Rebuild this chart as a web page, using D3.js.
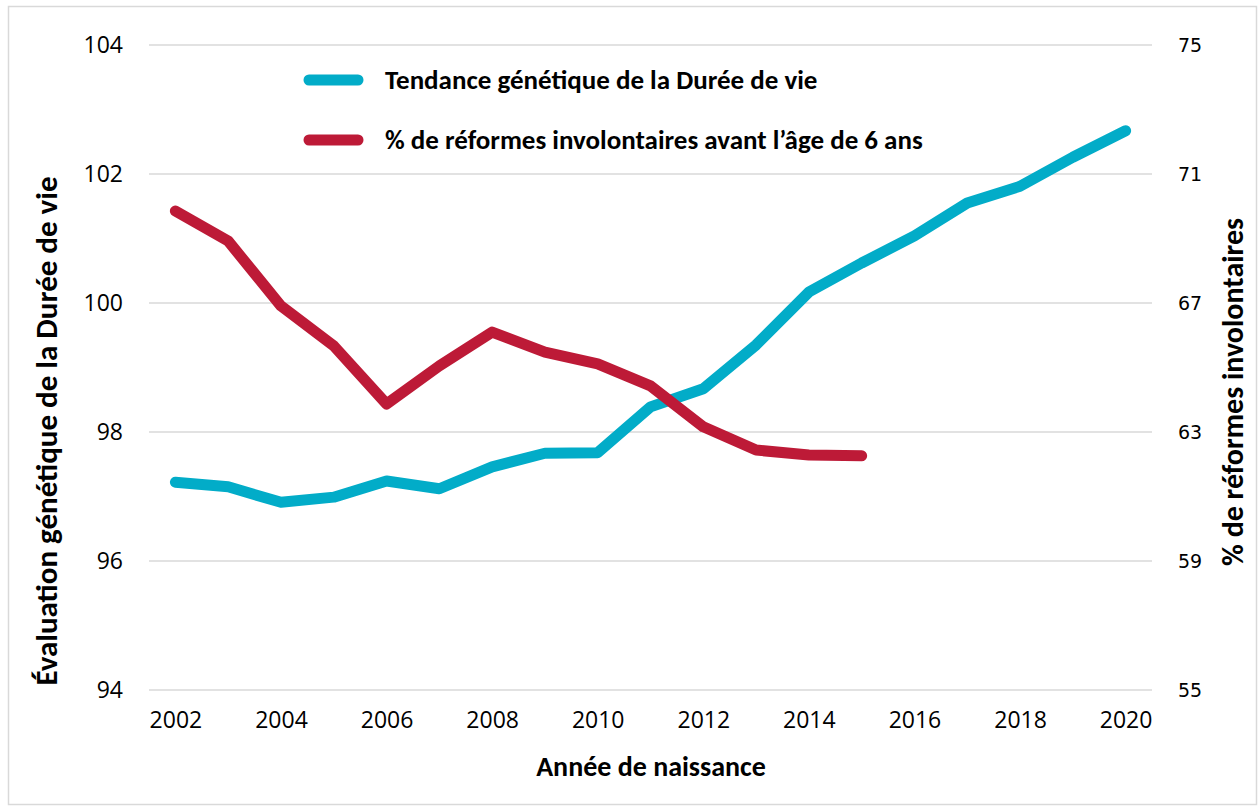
<!DOCTYPE html>
<html><head><meta charset="utf-8">
<script src="https://cdn.jsdelivr.net/npm/d3@7"></script>
<style>
body{margin:0;background:#fff;}
svg{display:block;}
</style></head>
<body>
<svg id="chart" width="1258" height="808"></svg>
<script>
const years = [2002,2003,2004,2005,2006,2007,2008,2009,2010,2011,2012,2013,2014,2015,2016,2017,2018,2019,2020];
const genetic = [97.22,97.15,96.91,96.99,97.24,97.12,97.46,97.67,97.68,98.39,98.67,99.35,100.17,100.62,101.04,101.55,101.81,102.26,102.67];
const reformYears = [2002,2003,2004,2005,2006,2007,2008,2009,2010,2011,2012,2013,2014,2015];
const reform = [69.85,68.92,66.91,65.67,63.87,65.05,66.10,65.48,65.11,64.43,63.16,62.44,62.29,62.26];
const leftTicks = [94,96,98,100,102,104];
const rightTicks = [55,59,63,67,71,75];
const xTickLabels = [2002,2004,2006,2008,2010,2012,2014,2016,2018,2020];
const seriesNames = ["Tendance génétique de la Durée de vie","% de réformes involontaires avant l\u2019âge de 6 ans"];
const leftTitle = "Évaluation génétique de la Durée de vie";
const rightTitle = "% de réformes involontaires";
const xTitle = "Année de naissance";

const BLUE = "#02acc8", RED = "#bd1a37";
const FONT = "Carlito, 'Liberation Sans Narrow', 'Open Sans', sans-serif";
const svg = d3.select("#chart");
svg.append("rect").attr("x",8.5).attr("y",6.5).attr("width",1248).attr("height",798)
  .attr("fill","#fff").attr("stroke","#d9d9d9").attr("stroke-width",1.5);

const L = 149, R = 1152, T = 45, B = 690;
const x = d3.scalePoint().domain(years).range([L,R]).padding(0.5);
const yL = d3.scaleLinear().domain([94,104]).range([B,T]);
const yR = d3.scaleLinear().domain([55,75]).range([B,T]);

// gridlines
svg.append("g").selectAll("line").data(leftTicks).join("line")
  .attr("x1",L).attr("x2",R).attr("y1",d=>yL(d)).attr("y2",d=>yL(d))
  .attr("stroke","#d9d9d9").attr("stroke-width",1.5);

// left axis
const gL = svg.append("g").attr("transform",`translate(${L},0)`)
  .call(d3.axisLeft(yL).tickValues(leftTicks).tickSize(0).tickPadding(26));
gL.select(".domain").remove();
gL.selectAll("text").attr("font-family","'Open Sans', sans-serif").attr("font-size",23).attr("fill","#000");

// right axis
const gR = svg.append("g").attr("transform",`translate(${R},0)`)
  .call(d3.axisRight(yR).tickValues(rightTicks).tickSize(0).tickPadding(26));
gR.select(".domain").remove();
gR.selectAll("text").attr("font-family","'DejaVu Sans', sans-serif").attr("font-size",19).attr("fill","#000");

// x axis
const gX = svg.append("g").attr("transform",`translate(0,${B})`)
  .call(d3.axisBottom(x).tickValues(xTickLabels).tickSize(0).tickPadding(22).tickFormat(d3.format("d")));
gX.select(".domain").remove();
gX.selectAll("text").attr("font-family","'Open Sans', sans-serif").attr("font-size",23).attr("fill","#000");

// titles
svg.append("text").attr("x",651).attr("y",776).attr("text-anchor","middle")
  .attr("font-family",FONT).attr("font-weight","bold").attr("font-size",28).text(xTitle);
svg.append("text").attr("transform","translate(57,431) rotate(-90)").attr("text-anchor","middle")
  .attr("font-family",FONT).attr("font-weight","bold").attr("font-size",31).text(leftTitle);
svg.append("text").attr("transform","translate(1243,392) rotate(-90)").attr("text-anchor","middle")
  .attr("font-family",FONT).attr("font-weight","bold").attr("font-size",30).text(rightTitle);

// lines
const lineL = d3.line().x((d,i)=>x(years[i])).y(d=>yL(d));
const lineR = d3.line().x((d,i)=>x(reformYears[i])).y(d=>yR(d));
svg.append("path").datum(genetic).attr("d",lineL).attr("fill","none").attr("stroke",BLUE)
  .attr("stroke-width",11).attr("stroke-linejoin","round").attr("stroke-linecap","round");
svg.append("path").datum(reform).attr("d",lineR).attr("fill","none").attr("stroke",RED)
  .attr("stroke-width",11).attr("stroke-linejoin","round").attr("stroke-linecap","round");

// legend
const legend = svg.append("g");
[[BLUE,80],[RED,140]].forEach(([c,yy],i)=>{
  legend.append("line").attr("x1",309).attr("x2",358).attr("y1",yy).attr("y2",yy)
    .attr("stroke",c).attr("stroke-width",11).attr("stroke-linecap","round");
  legend.append("text").attr("x",385).attr("y",yy).attr("dy","0.35em")
    .attr("font-family",FONT).attr("font-weight","bold").attr("font-size",27).text(seriesNames[i]);
});
</script>
</body></html>
